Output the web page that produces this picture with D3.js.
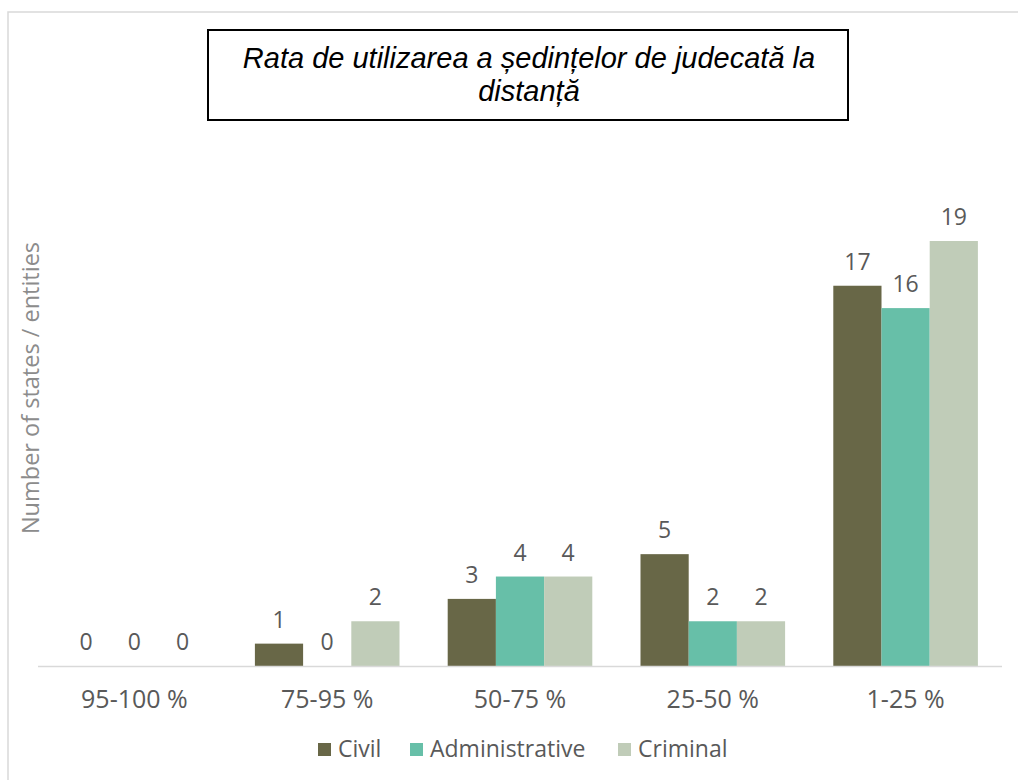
<!DOCTYPE html>
<html>
<head>
<meta charset="utf-8">
<script src="https://cdn.jsdelivr.net/npm/d3@7"></script>
<style>
body { margin: 0; background: #fff; }
</style>
</head>
<body>
<script>
var categories = ["95-100 %", "75-95 %", "50-75 %", "25-50 %", "1-25 %"];
var seriesNames = ["Civil", "Administrative", "Criminal"];
var civil = [0, 1, 3, 5, 17];
var administrative = [0, 0, 4, 2, 16];
var criminal = [0, 2, 4, 2, 19];
var colors = ["#686747", "#67bfa8", "#c0ccb8"];
var titleLines = ["Rata de utilizarea a ședințelor de judecată la", "distanță"];
var yTitle = "Number of states / entities";

var W = 1018, H = 780;
var svg = d3.select("body").append("svg").attr("width", W).attr("height", H);

// chart frame (runs off the right and bottom edges)
svg.append("rect")
	.attr("x", 8).attr("y", 12)
	.attr("width", 1100).attr("height", 900)
	.attr("fill", "none").attr("stroke", "#d9d9d9").attr("stroke-width", 1.5);

var x0 = d3.scaleBand().domain(categories).range([38, 1002]).paddingInner(0.25).paddingOuter(0.125);
var x1 = d3.scaleBand().domain(seriesNames).range([0, x0.bandwidth()]);
var y = d3.scaleLinear().domain([0, 19]).range([666, 241]);

var series = [civil, administrative, criminal];
var rows = [];
categories.forEach(function(c, i){
	seriesNames.forEach(function(s, j){
		rows.push({cat: c, name: s, value: series[j][i], color: colors[j]});
	});
});

var font = "'Open Sans', 'Liberation Sans', sans-serif";

svg.selectAll("rect.bar").data(rows).enter().append("rect")
	.attr("class", "bar")
	.attr("x", function(d){ return x0(d.cat) + x1(d.name); })
	.attr("y", function(d){ return y(d.value); })
	.attr("width", x1.bandwidth())
	.attr("height", function(d){ return y(0) - y(d.value); })
	.attr("fill", function(d){ return d.color; });

svg.selectAll("text.val").data(rows).enter().append("text")
	.attr("class", "val")
	.attr("x", function(d){ return x0(d.cat) + x1(d.name) + x1.bandwidth()/2; })
	.attr("y", function(d){ return y(d.value) - 16; })
	.attr("text-anchor", "middle")
	.attr("font-family", font).attr("font-size", 23)
	.attr("fill", "#595959")
	.text(function(d){ return d.value; });

// baseline
svg.append("line")
	.attr("x1", 38).attr("x2", 1002)
	.attr("y1", y(0) + 0.5).attr("y2", y(0) + 0.5)
	.attr("stroke", "#d9d9d9").attr("stroke-width", 1.5);

var xAxis = svg.append("g").attr("transform", "translate(0," + y(0) + ")")
	.call(d3.axisBottom(x0).tickSize(0).tickPadding(24));
xAxis.select(".domain").remove();
xAxis.selectAll("text")
	.attr("font-family", font).attr("font-size", 25)
	.attr("fill", "#595959");

// y axis title
svg.append("text")
	.attr("transform", "translate(39,388) rotate(-90)")
	.attr("text-anchor", "middle")
	.attr("font-family", font).attr("font-size", 23.5)
	.attr("fill", "#8c8c8c")
	.text(yTitle);

// title box
svg.append("rect")
	.attr("x", 208).attr("y", 30).attr("width", 640).attr("height", 90)
	.attr("fill", "#fff").attr("stroke", "#000").attr("stroke-width", 2);
svg.selectAll("text.title").data(titleLines).enter().append("text")
	.attr("class", "title")
	.attr("x", 529)
	.attr("y", function(d, i){ return 68 + i * 33; })
	.attr("text-anchor", "middle")
	.attr("font-family", "'Liberation Sans', Arial, sans-serif")
	.attr("font-style", "italic").attr("font-size", 29)
	.attr("fill", "#000")
	.text(function(d){ return d; });

// legend
var legendX = [318, 410, 618];
var legend = svg.selectAll("g.leg").data(seriesNames).enter().append("g")
	.attr("class", "leg")
	.attr("transform", function(d, i){ return "translate(" + legendX[i] + ",743)"; });
legend.append("rect")
	.attr("width", 13).attr("height", 13)
	.attr("fill", function(d, i){ return colors[i]; });
legend.append("text")
	.attr("x", 20).attr("y", 14)
	.attr("font-family", font).attr("font-size", 23)
	.attr("fill", "#595959")
	.text(function(d){ return d; });
</script>
</body>
</html>
